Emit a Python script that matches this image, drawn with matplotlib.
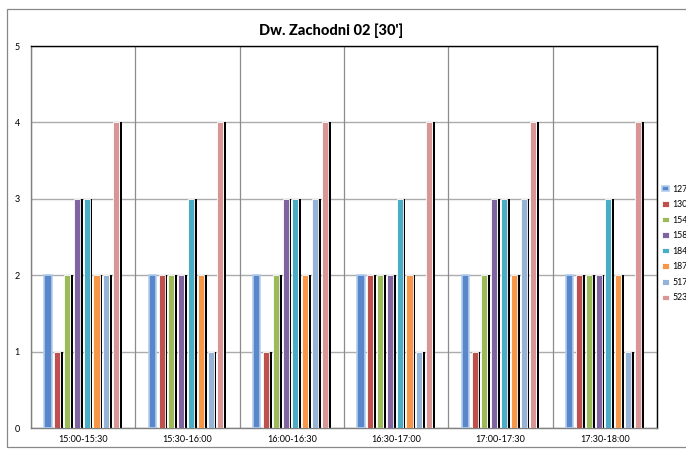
import matplotlib
matplotlib.use("Agg")
import matplotlib.pyplot as plt
from matplotlib.patches import Rectangle
import numpy as np

categories = ["15:00-15:30", "15:30-16:00", "16:00-16:30", "16:30-17:00", "17:00-17:30", "17:30-18:00"]
series_names = ["127", "130", "154", "158", "184", "187", "517", "523"]
s127 = [2, 2, 2, 2, 2, 2]
s130 = [1, 2, 1, 2, 1, 2]
s154 = [2, 2, 2, 2, 2, 2]
s158 = [3, 2, 3, 2, 3, 2]
s184 = [3, 3, 3, 3, 3, 3]
s187 = [2, 2, 2, 2, 2, 2]
s517 = [2, 1, 3, 1, 3, 1]
s523 = [4, 4, 4, 4, 4, 4]
series_values = [s127, s130, s154, s158, s184, s187, s517, s523]
colors = ["#5A87C9", "#C0504D", "#9BBB59", "#8064A2", "#4BACC6", "#F79646", "#95B3D7", "#D99694"]
title = "Dw. Zachodni 02 [30']"

plt.rcParams['font.family'] = ['Lato', 'DejaVu Sans']

fig = plt.figure(figsize=(6.86, 4.5), dpi=100)
# outer border
fig.patches.append(Rectangle((7/686, 1 - 447/450), 690/686, (447-9)/450, transform=fig.transFigure,
                             fill=False, edgecolor="#888888", linewidth=0.9))

ax = fig.add_axes([31/686, 22/450, (657-31)/686, (428-46)/450])
n_groups = len(categories)
x = np.arange(n_groups)
slot = 0.094
cw = 0.058
sw = 0.022
start = -slot * len(series_names) / 2

for i, (name, vals, c) in enumerate(zip(series_names, series_values, colors)):
    off = start + i * slot + 0.005
    if i == 0:
        ax.bar(x + off, vals, width=cw + 0.01, align='edge', color=c, edgecolor="#B4CDEE",
               linewidth=1.2, label=name, zorder=3)
    else:
        ax.bar(x + off + cw + 0.004, vals, width=sw, align='edge', color="black", linewidth=0, zorder=2)
        ax.bar(x + off, vals, width=cw, align='edge', color=c, edgecolor="white",
               linewidth=0.6, label=name, zorder=3)

ax.set_xlim(-0.5, n_groups - 0.5)
ax.set_ylim(0, 5)
ax.set_yticks(range(6))
ax.set_xticks(x)
ax.set_xticklabels(categories, fontsize=6.5)
ax.tick_params(axis='both', length=0, labelsize=6.5)
ax.tick_params(axis='y', pad=8)
ax.tick_params(axis='x', pad=5)
for b in np.arange(-0.5, n_groups, 1.0):
    ax.axvline(b, color="#8C8C8C", linewidth=0.9, zorder=1)
ax.yaxis.grid(True, color="#ABABAB", linewidth=1.0, zorder=0)
ax.set_axisbelow(True)
for s in ['top', 'right']:
    ax.spines[s].set_color("black")
    ax.spines[s].set_linewidth(1.0)
for s in ['left', 'bottom']:
    ax.spines[s].set_color("#808080")
    ax.spines[s].set_linewidth(1.0)

fig.text(331/686, 1 - 31/450, title, ha='center', va='center', fontsize=10.5, fontweight='black')

handles, labels = ax.get_legend_handles_labels()
leg = fig.legend(handles, labels, loc='upper left', bbox_to_anchor=(658/686, 1 - 181/450),
                 frameon=False, fontsize=6.3, handlelength=0.9, handleheight=0.6,
                 labelspacing=0.75, handletextpad=0.3, borderaxespad=0)

fig.savefig("out.png", dpi=100)
